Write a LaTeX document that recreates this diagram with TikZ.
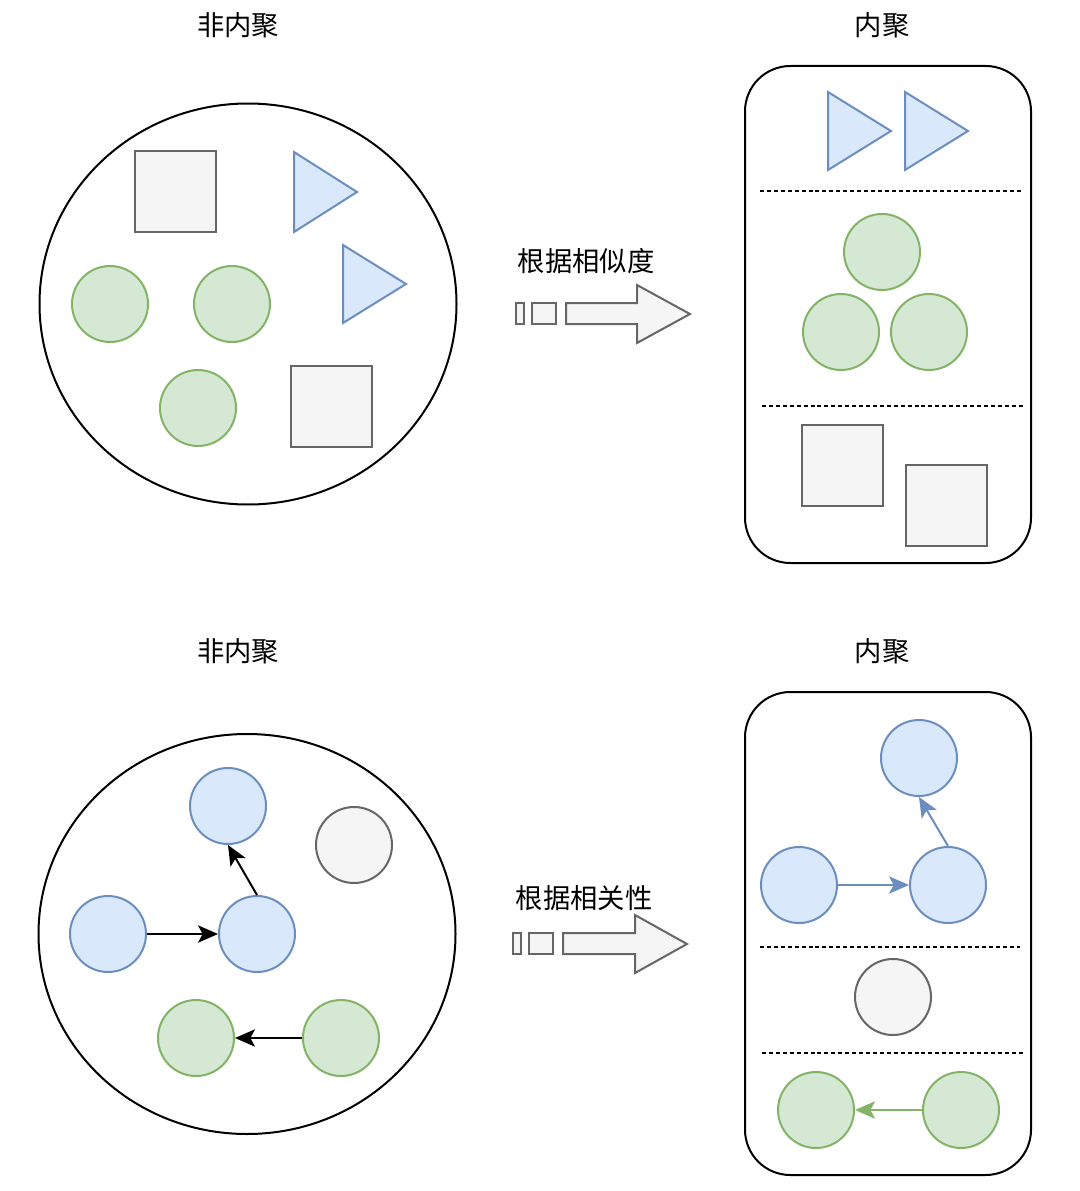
\documentclass[tikz,border=0pt]{standalone}
\usepackage{fontspec}
\setmainfont{Noto Sans CJK SC}
\usetikzlibrary{arrows.meta,shapes.geometric}
\definecolor{bluef}{HTML}{DAE8FC}
\definecolor{bluel}{HTML}{6C8EBF}
\definecolor{greenf}{HTML}{D5E8D4}
\definecolor{greenl}{HTML}{82B366}
\definecolor{grayf}{HTML}{F5F5F5}
\definecolor{grayl}{HTML}{666666}
\begin{document}
\begin{tikzpicture}[x=0.75pt,y=-0.75pt,
 bc/.style={circle,draw=bluel,fill=bluef,line width=1.5pt,minimum size=57pt,inner sep=0pt},
 gc/.style={circle,draw=greenl,fill=greenf,line width=1.5pt,minimum size=57pt,inner sep=0pt},
 yc/.style={circle,draw=grayl,fill=grayf,line width=1.5pt,minimum size=57pt,inner sep=0pt},
 sq/.style={rectangle,draw=grayl,fill=grayf,line width=1.5pt,minimum size=60.75pt,inner sep=0pt},
 tri/.style={draw=bluel,fill=bluef,line width=1.5pt,line join=miter},
 ttl/.style={font=\fontsize{20.5pt}{24pt}\selectfont,inner sep=0pt},
 dl/.style={line width=1.1pt,dash pattern=on 3pt off 2.2pt},
 box/.style={draw,line width=1.5pt,rounded corners=34pt},
 bigc/.style={ellipse,draw,line width=1.5pt,inner sep=0pt},
 arr/.style={draw=grayl,fill=grayf,line width=1.5pt},
 ln/.style={line width=1.5pt,-{Stealth[length=15pt,width=13pt,inset=3.5pt]}}
]
\useasboundingbox (0,0) rectangle (1080,1191);

% ---------- top half ----------
\node[ttl] (t1) at (238,25) {非内聚};
\node[ttl] (t2) at (882,25) {内聚};

\node[bigc,minimum width=312.75pt,minimum height=300.75pt] (C1) at (248,304) {};
\node[sq] (s1) at (175.5,191.5) {};
\node[sq] (s2) at (331.5,406.5) {};
\draw[tri] (294,152) -- (294,232) -- (357,192) -- cycle;
\draw[tri] (343,245) -- (343,323) -- (406,284) -- cycle;
\node[gc] (g1) at (110,304) {};
\node[gc] (g2) at (232,304) {};
\node[gc] (g3) at (198,408) {};

\node[ttl] (l1) at (586,261) {根据相似度};
\draw[arr] (516,303) rectangle (524,324);
\draw[arr] (532,303) rectangle (556,324);
\draw[arr,line join=miter] (566,303) -- (637,303) -- (637,285) -- (690,314) -- (637,343) -- (637,324) -- (566,324) -- cycle;

\draw[box] (745,66) rectangle (1031,563);
\draw[tri] (828,92) -- (828,170) -- (891,131) -- cycle;
\draw[tri] (905,92) -- (905,170) -- (968,131) -- cycle;
\coordinate (d1a) at (760,191); \coordinate (d1b) at (1022,191);
\draw[dl] (d1a) -- (d1b);
\node[gc] (rg1) at (882,252) {};
\node[gc] (rg2) at (841,332) {};
\node[gc] (rg3) at (929,332) {};
\coordinate (d2a) at (762,406); \coordinate (d2b) at (1025,406);
\draw[dl] (d2a) -- (d2b);
\node[sq] (rs1) at (842.5,465) {};
\node[sq] (rs2) at (946.5,505.5) {};

% ---------- bottom half ----------
\node[ttl] (t3) at (238,651) {非内聚};
\node[ttl] (t4) at (882,651) {内聚};

\node[bigc,minimum width=312.75pt,minimum height=300pt] (C2) at (247,934) {};
\node[bc] (b1) at (228,806) {};
\node[bc] (b2) at (108,934) {};
\node[bc] (b3) at (257,934) {};
\node[yc] (y1) at (354,845) {};
\node[gc] (h1) at (196,1038) {};
\node[gc] (h2) at (341,1038) {};
\draw[ln] (b2.east) -- (b3.west);
\draw[ln] (b3.north) -- (b1.south);
\draw[ln] (h2.west) -- (h1.east);

\node[ttl] (l2) at (584,898) {根据相关性};
\draw[arr] (513,933) rectangle (521,954);
\draw[arr] (529,933) rectangle (553,954);
\draw[arr,line join=miter] (563,933) -- (635,933) -- (635,915) -- (687,944) -- (635,973) -- (635,954) -- (563,954) -- cycle;

\draw[box] (745,692) rectangle (1031,1175);
\node[bc] (rb1) at (919,758) {};
\node[bc] (rb2) at (799,885) {};
\node[bc] (rb3) at (948,885) {};
\draw[ln,draw=bluel,fill=bluel] (rb2.east) -- (rb3.west);
\draw[ln,draw=bluel,fill=bluel] (rb3.north) -- (rb1.south);
\coordinate (d3a) at (760,947); \coordinate (d3b) at (1020,947);
\draw[dl] (d3a) -- (d3b);
\node[yc] (ry1) at (893,997) {};
\coordinate (d4a) at (762,1053); \coordinate (d4b) at (1025,1053);
\draw[dl] (d4a) -- (d4b);
\node[gc] (rh1) at (816,1110) {};
\node[gc] (rh2) at (961,1110) {};
\draw[ln,draw=greenl,fill=greenl] (rh2.west) -- (rh1.east);
\end{tikzpicture}
\end{document}
